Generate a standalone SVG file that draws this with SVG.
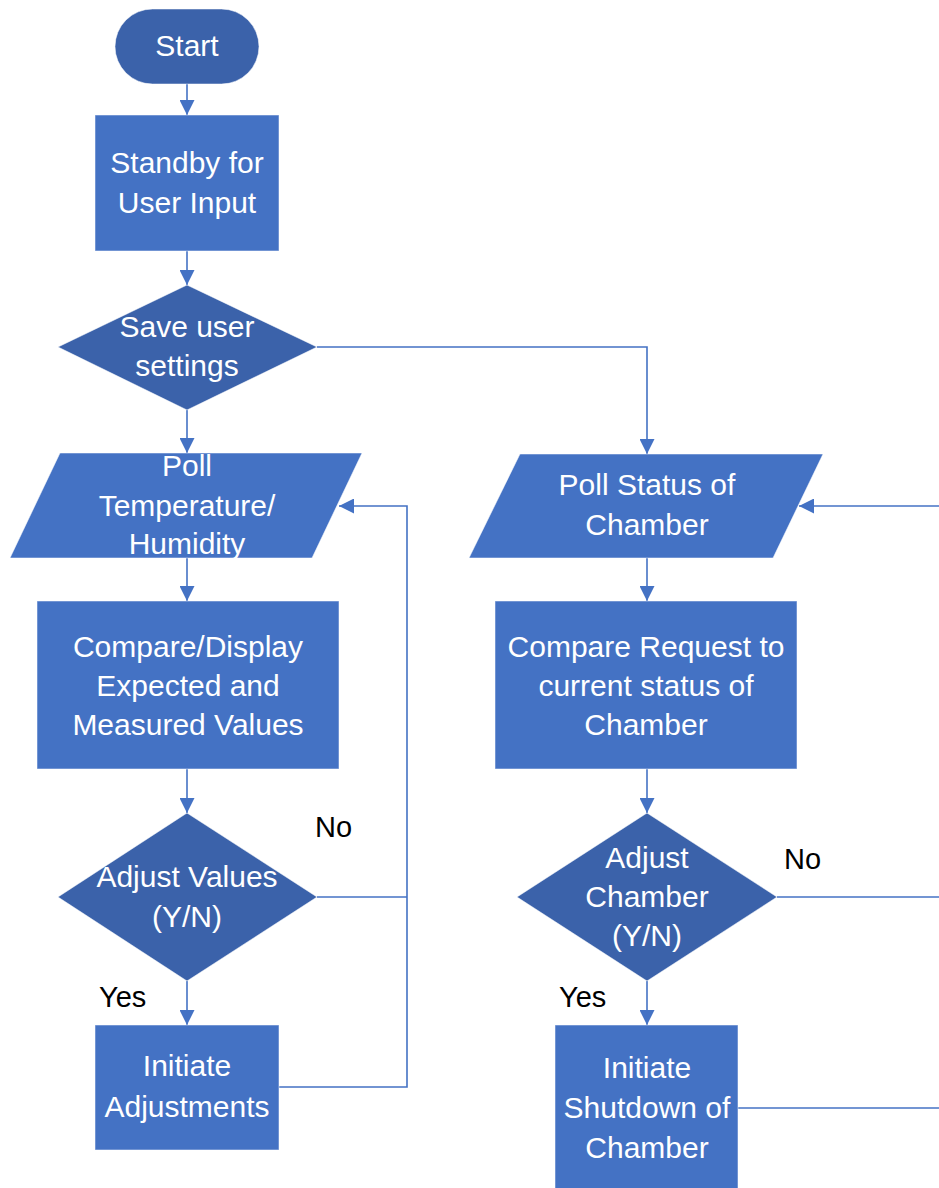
<svg xmlns="http://www.w3.org/2000/svg" width="939" height="1188" viewBox="0 0 939 1188">
  <style>
    .proc { fill: #4472C4; stroke: #ffffff; stroke-opacity: 0.5; stroke-width: 1; }
    .dec { fill: #3B62AA; stroke: #ffffff; stroke-opacity: 0.5; stroke-width: 1; }
    .lbl { font-family: "Liberation Sans", Arial, sans-serif; font-size: 30px; fill: #ffffff; text-anchor: middle; }
    .note { font-family: "Liberation Sans", Arial, sans-serif; font-size: 29px; fill: #000000; }
    .conn { fill: none; stroke: #4472C4; stroke-width: 1.6; }
  </style>
  <defs>
    <marker id="arrow" markerUnits="userSpaceOnUse" markerWidth="15" markerHeight="15" viewBox="0 0 15 15" refX="15" refY="7.5" orient="auto">
      <path d="M0,0 L15,7.5 L0,15 Z" fill="#4472C4"/>
    </marker>
  </defs>
  <rect width="939" height="1188" fill="#ffffff"/>

  <!-- connectors -->
  <g id="connectors">
    <line class="conn" x1="187" y1="84" x2="187" y2="115" marker-end="url(#arrow)"/>
    <line class="conn" x1="187" y1="251" x2="187" y2="285" marker-end="url(#arrow)"/>
    <line class="conn" x1="187" y1="410" x2="187" y2="453" marker-end="url(#arrow)"/>
    <polyline class="conn" points="317,347 647,347 647,454" marker-end="url(#arrow)"/>
    <line class="conn" x1="187" y1="558" x2="187" y2="601" marker-end="url(#arrow)"/>
    <line class="conn" x1="187" y1="769" x2="187" y2="813" marker-end="url(#arrow)"/>
    <line class="conn" x1="187" y1="981" x2="187" y2="1025" marker-end="url(#arrow)"/>
    <line class="conn" x1="317" y1="897" x2="407" y2="897"/>
    <polyline class="conn" points="279,1087 407,1087 407,506 339,506" marker-end="url(#arrow)"/>
    <line class="conn" x1="647" y1="558" x2="647" y2="601" marker-end="url(#arrow)"/>
    <line class="conn" x1="647" y1="769" x2="647" y2="813" marker-end="url(#arrow)"/>
    <line class="conn" x1="647" y1="981" x2="647" y2="1025" marker-end="url(#arrow)"/>
    <line class="conn" x1="777" y1="897" x2="939" y2="897"/>
    <line class="conn" x1="738" y1="1108" x2="939" y2="1108"/>
    <line class="conn" x1="939" y1="506" x2="799" y2="506" marker-end="url(#arrow)"/>
  </g>

  <!-- left column -->
  <g id="start">
    <rect class="dec" x="115" y="9" width="144" height="75" rx="37.5"/>
    <text class="lbl" x="187" y="56">Start</text>
  </g>
  <g id="standby">
    <rect class="proc" x="95" y="115" width="184" height="136"/>
    <text class="lbl" x="187" y="173">Standby for</text>
    <text class="lbl" x="187" y="213">User Input</text>
  </g>
  <g id="save-settings">
    <polygon class="dec" points="187,285 317,347 187,410 58,347"/>
    <text class="lbl" x="187" y="337">Save user</text>
    <text class="lbl" x="187" y="376">settings</text>
  </g>
  <g id="poll-temp">
    <polygon class="proc" points="60,453 362,453 312,558 10,558"/>
    <text class="lbl" x="187" y="476">Poll</text>
    <text class="lbl" x="187" y="516">Temperature/</text>
    <text class="lbl" x="187" y="554">Humidity</text>
  </g>
  <g id="compare-display">
    <rect class="proc" x="37" y="601" width="302" height="168"/>
    <text class="lbl" x="188" y="657">Compare/Display</text>
    <text class="lbl" x="188" y="696">Expected and</text>
    <text class="lbl" x="188" y="735">Measured Values</text>
  </g>
  <g id="adjust-values">
    <polygon class="dec" points="187,813 317,897 187,981 58,897"/>
    <text class="lbl" x="187" y="887">Adjust Values</text>
    <text class="lbl" x="187" y="927">(Y/N)</text>
  </g>
  <g id="initiate-adjustments">
    <rect class="proc" x="95" y="1025" width="184" height="125"/>
    <text class="lbl" x="187" y="1076">Initiate</text>
    <text class="lbl" x="187" y="1117">Adjustments</text>
  </g>
  <text class="note" x="315" y="837">No</text>
  <text class="note" x="99" y="1007">Yes</text>

  <!-- right column -->
  <g id="poll-chamber">
    <polygon class="proc" points="520,454 823,454 773,558 469,558"/>
    <text class="lbl" x="647" y="495">Poll Status of</text>
    <text class="lbl" x="647" y="535">Chamber</text>
  </g>
  <g id="compare-request">
    <rect class="proc" x="495" y="601" width="302" height="168"/>
    <text class="lbl" x="646" y="657">Compare Request to</text>
    <text class="lbl" x="646" y="696">current status of</text>
    <text class="lbl" x="646" y="735">Chamber</text>
  </g>
  <g id="adjust-chamber">
    <polygon class="dec" points="647,813 777,897 647,981 517,897"/>
    <text class="lbl" x="647" y="868">Adjust</text>
    <text class="lbl" x="647" y="907">Chamber</text>
    <text class="lbl" x="647" y="946">(Y/N)</text>
  </g>
  <g id="initiate-shutdown">
    <rect class="proc" x="555" y="1025" width="183" height="175"/>
    <text class="lbl" x="647" y="1078">Initiate</text>
    <text class="lbl" x="647" y="1118">Shutdown of</text>
    <text class="lbl" x="647" y="1158">Chamber</text>
  </g>
  <text class="note" x="784" y="869">No</text>
  <text class="note" x="559" y="1007">Yes</text>
</svg>
